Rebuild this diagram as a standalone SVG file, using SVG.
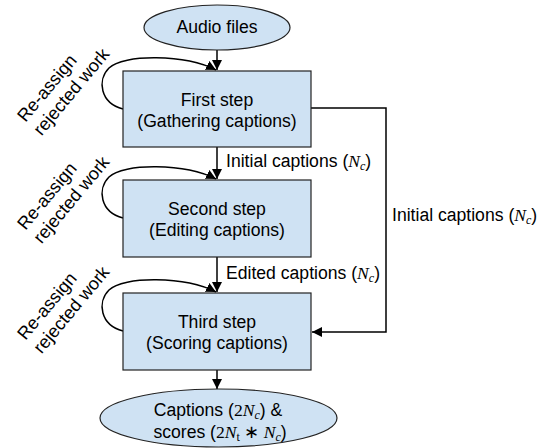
<svg xmlns="http://www.w3.org/2000/svg" width="539" height="448" viewBox="0 0 539 448">
<style>
.shape{fill:#cfe2f3;stroke:#222;stroke-width:1.2}
.t{font-family:"Liberation Sans",Arial,sans-serif;font-size:17.6px;fill:#000}
.rot{font-size:18px}
.c{text-anchor:middle}
.m{font-family:"Liberation Serif","Times New Roman",serif;font-style:italic}
.r{font-family:"Liberation Serif","Times New Roman",serif}
.s{font-size:12px}
.line{fill:none;stroke:#000;stroke-width:1.5}
</style>
<defs>
<marker id="ah" markerUnits="userSpaceOnUse" markerWidth="11" markerHeight="11" refX="10" refY="5" orient="auto">
<path d="M0,0 L10,5 L0,10 z" fill="#000"/>
</marker>
</defs>
<g id="connectors">
<path class="line" d="M217,50 L217,70" marker-end="url(#ah)"/>
<path class="line" d="M217,147 L217,179" marker-end="url(#ah)"/>
<path class="line" d="M217,257 L217,292" marker-end="url(#ah)"/>
<path class="line" d="M217,370 L217,389" marker-end="url(#ah)"/>
<path class="line" d="M311,108 H386 V332 H312" marker-end="url(#ah)"/>
<path class="line" d="M123,109 C100,103 97,80 109,68 C123,54 185,54 216,70" marker-end="url(#ah)"/>
<path class="line" d="M123,218 C100,212 97,189 109,177 C123,163 185,163 216,179" marker-end="url(#ah)"/>
<path class="line" d="M123,331 C100,325 97,302 109,290 C123,276 185,276 216,292" marker-end="url(#ah)"/>
<text class="t" x="226" y="167">Initial captions (<tspan class="m">N</tspan><tspan class="m s" dy="3">c</tspan><tspan dy="-3">)</tspan></text>
<text class="t" x="226" y="279">Edited captions (<tspan class="m">N</tspan><tspan class="m s" dy="3">c</tspan><tspan dy="-3">)</tspan></text>
<text class="t" x="392" y="221">Initial captions (<tspan class="m">N</tspan><tspan class="m s" dy="3">c</tspan><tspan dy="-3">)</tspan></text>
<g transform="translate(25.5,123) rotate(-50)">
<text class="t rot" x="0" y="0">Re-assign</text>
<text class="t rot" x="0" y="21">rejected work</text>
</g>
<g transform="translate(25.5,231) rotate(-50)">
<text class="t rot" x="0" y="0">Re-assign</text>
<text class="t rot" x="0" y="21">rejected work</text>
</g>
<g transform="translate(25.5,341) rotate(-50)">
<text class="t rot" x="0" y="0">Re-assign</text>
<text class="t rot" x="0" y="21">rejected work</text>
</g>
</g>
<g id="audio">
<ellipse class="shape" cx="217" cy="27.5" rx="73" ry="22.5"/>
<text class="t c" x="217" y="33">Audio files</text>
</g>
<g id="step1">
<rect class="shape" x="123" y="71" width="188" height="76"/>
<text class="t c" x="217" y="106">First step</text>
<text class="t c" x="217" y="127">(Gathering captions)</text>
</g>
<g id="step2">
<rect class="shape" x="123" y="180" width="188" height="77"/>
<text class="t c" x="217" y="215">Second step</text>
<text class="t c" x="217" y="236">(Editing captions)</text>
</g>
<g id="step3">
<rect class="shape" x="123" y="293" width="188" height="77"/>
<text class="t c" x="217" y="328">Third step</text>
<text class="t c" x="217" y="349">(Scoring captions)</text>
</g>
<g id="output">
<ellipse class="shape" cx="218.5" cy="418" rx="118.5" ry="29"/>
<text class="t c" x="218" y="416">Captions (<tspan class="r">2</tspan><tspan class="m">N</tspan><tspan class="m s" dy="3">c</tspan><tspan dy="-3">) &amp;</tspan></text>
<text class="t c" x="220" y="438">scores (<tspan class="r">2</tspan><tspan class="m">N</tspan><tspan class="r s" dy="3">t</tspan><tspan class="r" dy="-3"> ∗ </tspan><tspan class="m">N</tspan><tspan class="m s" dy="3">c</tspan><tspan dy="-3">)</tspan></text>
</g>
</svg>
